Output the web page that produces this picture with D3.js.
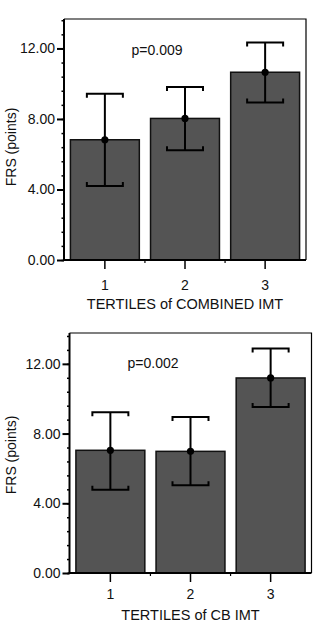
<!DOCTYPE html>
<html><head><meta charset="utf-8">
<script src="https://cdn.jsdelivr.net/npm/d3@7"></script>
<style>
html,body{margin:0;padding:0;background:#fff;}
text{font-family:"Liberation Sans",Arial,Helvetica,sans-serif;fill:#111;}
</style></head>
<body><svg id="c" width="331" height="637"></svg>
<script>
const categories = ["1","2","3"];
const yTicks = [0, 4, 8, 12];
// Chart A: TERTILES of COMBINED IMT
const meansA = [6.82, 8.03, 10.65];
const upperA = [9.43, 9.81, 12.33];
const lowerA = [4.20, 6.23, 8.94];
const pTextA = "p=0.009";
const xTitleA = "TERTILES of COMBINED IMT";
// Chart B: TERTILES of CB IMT
const meansB = [7.04, 6.98, 11.19];
const upperB = [9.22, 8.95, 12.88];
const lowerB = [4.78, 5.03, 9.53];
const pTextB = "p=0.002";
const xTitleB = "TERTILES of CB IMT";
const yTitle = "FRS (points)";

const svg = d3.select("#c");

function drawChart(cfg) {
  const {left, right, top, bottom, ymax, means, upper, lower, pText, pX, pY, xTitle, xTitleY, tickLabelY, yTitleY} = cfg;
  const g = svg.append("g");
  const x = d3.scaleBand().domain(categories).range([left, right]).paddingInner(0.14).paddingOuter(0.08);
  const y = d3.scaleLinear().domain([0, ymax]).range([bottom, top]);

  // frame top and right
  g.append("path").attr("d", `M${left},${top}H${right}V${bottom}`).attr("fill","none").attr("stroke","#000").attr("stroke-width",1.2);

  // bars
  g.selectAll("rect.bar").data(means).join("rect")
    .attr("x", (d,i) => x(categories[i]))
    .attr("y", d => y(d))
    .attr("width", x.bandwidth())
    .attr("height", d => y(0) - y(d))
    .attr("fill", "#545454").attr("stroke", "#111").attr("stroke-width", 1.5);

  // error bars
  const capW = 36, capH = 4;
  categories.forEach((c,i) => {
    const cx = x(c) + x.bandwidth()/2;
    g.append("line").attr("x1",cx).attr("x2",cx).attr("y1",y(upper[i])).attr("y2",y(lower[i]))
      .attr("stroke","#000").attr("stroke-width",2);
    const yu = y(upper[i]), yl = y(lower[i]);
    g.append("path").attr("d",`M${cx-capW/2},${yu+capH}V${yu}H${cx+capW/2}V${yu+capH}`)
      .attr("fill","none").attr("stroke","#000").attr("stroke-width",2);
    g.append("path").attr("d",`M${cx-capW/2},${yl-capH}V${yl}H${cx+capW/2}V${yl-capH}`)
      .attr("fill","none").attr("stroke","#000").attr("stroke-width",2);
    g.append("circle").attr("cx",cx).attr("cy",y(means[i])).attr("r",3.6).attr("fill","#000");
  });

  // y axis
  const minor = d3.range(0, ymax, 0.8);
  const ya = g.append("g").attr("transform",`translate(${left},0)`)
    .call(d3.axisLeft(y).tickValues(minor).tickSize(2.5).tickFormat(""));
  ya.select(".domain").remove();
  ya.selectAll("line").attr("stroke","#000").attr("stroke-width",1.5);
  const yb = g.append("g").attr("transform",`translate(${left},0)`)
    .call(d3.axisLeft(y).tickValues(yTicks).tickSize(7).tickPadding(2).tickFormat(d3.format(".2f")));
  yb.select(".domain").remove();
  yb.selectAll("line").attr("stroke","#000").attr("stroke-width",2);
  yb.selectAll("text").attr("font-size",14).attr("fill","#111");
  g.append("line").attr("x1",left).attr("x2",left).attr("y1",top).attr("y2",bottom+1).attr("stroke","#000").attr("stroke-width",2);

  // x axis
  const xa = g.append("g").attr("transform",`translate(0,${bottom})`)
    .call(d3.axisBottom(x).tickSize(9).tickSizeOuter(0).tickPadding(9));
  xa.select(".domain").remove();
  xa.selectAll("line").attr("stroke","#000").attr("stroke-width",1.5);
  xa.selectAll(".tick text").attr("font-size",14).attr("fill","#111")
    .attr("y", tickLabelY - bottom).attr("dy", 0);
  // minor x ticks between categories
  const mids = [x(categories[1]) - x.step()*x.paddingInner()/2, x(categories[2]) - x.step()*x.paddingInner()/2];
  mids.forEach(m => g.append("line").attr("x1",m).attr("x2",m).attr("y1",bottom).attr("y2",bottom+3).attr("stroke","#000").attr("stroke-width",1.2));
  g.append("line").attr("x1",left-1).attr("x2",right).attr("y1",bottom).attr("y2",bottom).attr("stroke","#000").attr("stroke-width",2);

  g.append("text").attr("x",(left+right)/2).attr("y",xTitleY).attr("text-anchor","middle").attr("font-size",14.5).text(xTitle);
  g.append("text").attr("x",pX).attr("y",pY).attr("text-anchor","middle").attr("font-size",14).text(pText);
  g.append("text").attr("transform",`translate(16,${yTitleY}) rotate(-90)`).attr("text-anchor","middle").attr("font-size",14).text(yTitle);
}

drawChart({left:64, right:306, top:19, bottom:260, ymax:13.67, means:meansA, upper:upperA, lower:lowerA,
  pText:pTextA, pX:157, pY:55, xTitle:xTitleA, xTitleY:309, tickLabelY:290, yTitleY:147});
drawChart({left:69.5, right:311.5, top:333, bottom:573, ymax:13.77, means:meansB, upper:upperB, lower:lowerB,
  pText:pTextB, pX:153, pY:368, xTitle:xTitleB, xTitleY:620, tickLabelY:599, yTitleY:455});
</script></body></html>
